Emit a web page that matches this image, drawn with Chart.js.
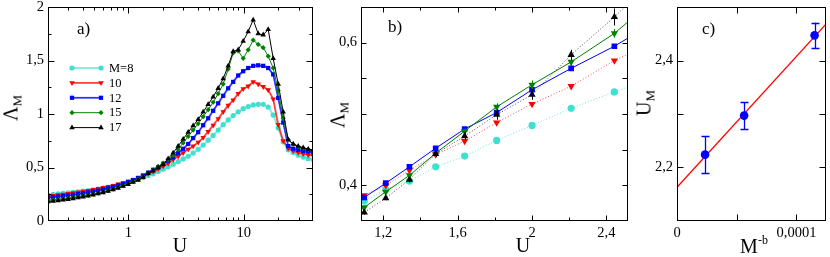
<!DOCTYPE html>
<html>
<head>
<meta charset="utf-8">
<script src="https://cdn.jsdelivr.net/npm/chart.js@4.4.1/dist/chart.umd.min.js"></script>
<style>
  html, body { margin: 0; padding: 0; background: #fff; }
  #wrap { position: relative; width: 830px; height: 257px; overflow: hidden;
          font-family: "Liberation Serif", "Times New Roman", serif; color: #000; }
  canvas { position: absolute; top: 0; }
  .ttl { position: absolute; white-space: nowrap; line-height: 1; font-size: 20px;
         transform: translate(-50%, -50%); }
  .rot { transform: translate(-50%, -50%) rotate(-90deg); }
  .pl { position: absolute; white-space: nowrap; line-height: 1; font-size: 17px; }
  .ttl sub { font-size: 13px; vertical-align: -4px; }
  .ttl sup { font-size: 12px; vertical-align: 9px; }
</style>
</head>
<body>
<div id="wrap">
  <canvas id="chart-a" width="322" height="257" style="left:0"></canvas>
  <canvas id="chart-b" width="310" height="257" style="left:322px"></canvas>
  <canvas id="chart-c" width="198" height="257" style="left:632px"></canvas>

  <div class="pl" style="left:77px;top:20px">a)</div>
  <div class="pl" style="left:388px;top:18px">b)</div>
  <div class="pl" style="left:702px;top:20px">c)</div>

  <div class="ttl rot" style="left:12px;top:108px">Λ<sub>M</sub></div>
  <div class="ttl" style="left:180px;top:245px">U</div>
  <div class="ttl rot" style="left:339px;top:115px">Λ<sub>M</sub></div>
  <div class="ttl" style="left:523px;top:245px">U</div>
  <div class="ttl rot" style="left:645px;top:103px">U<sub>M</sub></div>
  <div class="ttl" style="left:754px;top:245px">M<sup>-b</sup></div>
</div>
<script>
(function () {
  // U grid shared by panels a) and b)
  var U = [0.2005, 0.2216, 0.2449, 0.2707, 0.2991, 0.3306, 0.3654, 0.4038, 0.4463, 0.4932,
    0.5451, 0.6024, 0.6657, 0.7358, 0.8131, 0.8987, 0.9932, 1.0976, 1.2131, 1.3406,
    1.4816, 1.6375, 1.8097, 2.0, 2.2103, 2.4428, 2.6997, 2.9836, 3.2974, 3.6442,
    4.0275, 4.4511, 4.9192, 5.4366, 6.0083, 6.6402, 7.3386, 8.1104, 8.9634, 9.9061,
    10.948, 12.099, 13.372, 14.778, 16.332, 18.050, 19.949, 22.046, 24.365, 26.928,
    29.760, 32.889, 36.349, 40.171];

  var M8 = [0.243, 0.248, 0.253, 0.258, 0.263, 0.268, 0.273, 0.279, 0.285, 0.292,
    0.299, 0.307, 0.316, 0.326, 0.337, 0.349, 0.363, 0.378, 0.394, 0.406,
    0.426, 0.441, 0.463, 0.484, 0.508, 0.531, 0.555, 0.58, 0.605, 0.635,
    0.67, 0.71, 0.755, 0.80, 0.85, 0.90, 0.945, 0.985, 1.02, 1.05,
    1.07, 1.085, 1.09, 1.09, 1.065, 0.99, 0.87, 0.74, 0.665, 0.64,
    0.615, 0.597, 0.582, 0.575];
  var M10 = [0.232, 0.238, 0.244, 0.250, 0.256, 0.263, 0.270, 0.277, 0.285, 0.293,
    0.302, 0.311, 0.321, 0.332, 0.344, 0.357, 0.371, 0.386, 0.400, 0.421,
    0.443, 0.462, 0.488, 0.514, 0.539, 0.575, 0.605, 0.637, 0.67, 0.70,
    0.735, 0.78, 0.835, 0.895, 0.955, 1.02, 1.08, 1.13, 1.19, 1.235,
    1.26, 1.30, 1.28, 1.255, 1.225, 1.14, 0.90, 0.75, 0.68, 0.655,
    0.64, 0.628, 0.617, 0.61];
  var M12 = [0.218, 0.223, 0.228, 0.233, 0.239, 0.245, 0.252, 0.259, 0.267, 0.276,
    0.285, 0.295, 0.306, 0.319, 0.333, 0.348, 0.365, 0.383, 0.403, 0.426,
    0.452, 0.479, 0.502, 0.534, 0.564, 0.595, 0.635, 0.675, 0.72, 0.775,
    0.83, 0.895, 0.96, 1.03, 1.10, 1.17, 1.24, 1.30, 1.36, 1.40,
    1.43, 1.45, 1.455, 1.45, 1.43, 1.37, 1.15, 0.92, 0.70, 0.675,
    0.665, 0.655, 0.648, 0.642];
  var M15 = [0.194, 0.198, 0.202, 0.207, 0.213, 0.219, 0.226, 0.234, 0.242, 0.251,
    0.261, 0.272, 0.284, 0.298, 0.313, 0.330, 0.348, 0.369, 0.391, 0.414,
    0.445, 0.476, 0.510, 0.541, 0.573, 0.613, 0.67, 0.73, 0.79, 0.85,
    0.91, 0.975, 1.04, 1.11, 1.19, 1.28, 1.42, 1.57, 1.59, 1.52,
    1.60, 1.69, 1.65, 1.62, 1.54, 1.43, 1.22, 0.96, 0.76, 0.715,
    0.695, 0.68, 0.668, 0.662];
  var M17 = [0.180, 0.185, 0.191, 0.197, 0.203, 0.210, 0.218, 0.226, 0.235, 0.245,
    0.255, 0.266, 0.279, 0.293, 0.308, 0.325, 0.343, 0.362, 0.382, 0.408,
    0.444, 0.469, 0.499, 0.527, 0.583, 0.636, 0.70, 0.765, 0.83, 0.89,
    0.95, 1.02, 1.09, 1.16, 1.24, 1.33, 1.45, 1.585, 1.60, 1.68,
    1.77, 1.88, 1.75, 1.74, 1.79, 1.52, 1.28, 1.02, 0.76, 0.72,
    0.70, 0.685, 0.672, 0.666];

  // panel b) is a window of the same data (U from 0.99 to 2.70)
  var ZOOM_FROM = 16, ZOOM_TO = 27;
  var M15_ERR_B = [0, 0.002, 0.002, 0.003, 0.003, 0.004, 0.005, 0.006, 0.006, 0.006, 0];
  var M17_ERR_B = [0, 0.003, 0.003, 0.004, 0.004, 0.006, 0.007, 0.007, 0.007, 0.012, 0];

  // panel c)
  var MB = [2.35e-5, 5.62e-5, 1.152e-4];
  var UM = [2.224, 2.297, 2.447];
  var UM_ERR = [0.035, 0.025, 0.024];
  var FIT_X = [0, 1.245e-4];
  var FIT_Y = [2.163, 2.4675];

  var LEGEND_LABELS = ['M=8', '10', '12', '15', '17'];

  var A_X_TICKS = [1, 10];
  var A_Y_TICKS = [0, 0.5, 1, 1.5, 2];
  var B_X_TICKS = [1.2, 1.6, 2, 2.4];
  var B_Y_TICKS = [0.4, 0.6];
  var C_X_TICKS = [0, 0.0001];
  var C_Y_TICKS = [2.2, 2.4];

  var FONT = { family: '"Liberation Serif", "Times New Roman", serif', size: 14.5, lineHeight: 1 };

  function pts(xs, ys) {
    return xs.map(function (x, i) { return { x: x, y: ys[i] }; });
  }

  function comma(v) { return String(v).replace('.', ','); }

  function fixedAxis(values, min, max, size, isX, type) {
    return {
      type: type || 'linear',
      min: min,
      max: max,
      grid: { display: false, drawTicks: false },
      border: { display: false },
      afterBuildTicks: function (s) {
        s.ticks = values.map(function (v) { return { value: v }; });
      },
      afterFit: function (s) {
        if (isX) s.height = size; else s.width = size;
        s.paddingTop = 0; s.paddingBottom = 0; s.paddingLeft = 0; s.paddingRight = 0;
      },
      ticks: {
        color: '#000',
        font: FONT,
        padding: isX ? 5 : 4,
        maxRotation: 0,
        autoSkip: false,
        callback: function (v) { return comma(v); },
      },
    };
  }

  // frame + inward ticks on all four sides
  function frameTicks(cfg) {
    return {
      id: 'frameTicks',
      afterDraw: function (chart) {
        var ctx = chart.ctx, a = chart.chartArea;
        var sx = chart.scales.x, sy = chart.scales.y;
        var L = Math.round(a.left) + 0.5, R = Math.round(a.right) - 0.5;
        var T = Math.round(a.top) + 0.5, B = Math.round(a.bottom) - 0.5;
        ctx.save();
        ctx.strokeStyle = '#000';
        ctx.lineWidth = 1;
        ctx.beginPath();
        function xt(v, len) {
          var p = Math.round(sx.getPixelForValue(v)) + 0.5;
          ctx.moveTo(p, B); ctx.lineTo(p, B - len);
          ctx.moveTo(p, T); ctx.lineTo(p, T + len);
        }
        function yt(v, len) {
          var p = Math.round(sy.getPixelForValue(v)) + 0.5;
          ctx.moveTo(L, p); ctx.lineTo(L + len, p);
          ctx.moveTo(R, p); ctx.lineTo(R - len, p);
        }
        cfg.xMajor.forEach(function (v) { xt(v, cfg.majLen); });
        cfg.xMinor.forEach(function (v) { xt(v, cfg.minLen); });
        cfg.yMajor.forEach(function (v) { yt(v, cfg.majLen); });
        cfg.yMinor.forEach(function (v) { yt(v, cfg.minLen); });
        ctx.stroke();
        ctx.strokeRect(L, T, R - L, B - T);
        ctx.restore();
      },
    };
  }

  var errorBars = {
    id: 'errorBars',
    afterDatasetsDraw: function (chart) {
      var ctx = chart.ctx, a = chart.chartArea, sy = chart.scales.y;
      ctx.save();
      ctx.beginPath();
      ctx.rect(a.left, a.top, a.right - a.left, a.bottom - a.top);
      ctx.clip();
      chart.data.datasets.forEach(function (ds, di) {
        if (!ds.errs) return;
        var meta = chart.getDatasetMeta(di);
        ctx.strokeStyle = ds.pointBackgroundColor;
        ctx.lineWidth = ds.errWidth || 1;
        meta.data.forEach(function (pt, i) {
          var e = ds.errs[i];
          if (!e) return;
          var v = ds.data[i].y;
          var y1 = sy.getPixelForValue(v + e), y2 = sy.getPixelForValue(v - e);
          var x = Math.round(pt.x) + 0.5;
          ctx.beginPath();
          ctx.moveTo(x, y1); ctx.lineTo(x, y2);
          if (ds.errCap) {
            ctx.moveTo(x - ds.errCap, Math.round(y1) + 0.5); ctx.lineTo(x + ds.errCap, Math.round(y1) + 0.5);
            ctx.moveTo(x - ds.errCap, Math.round(y2) + 0.5); ctx.lineTo(x + ds.errCap, Math.round(y2) + 0.5);
          }
          ctx.stroke();
        });
      });
      ctx.restore();
    },
  };

  var legendA = {
    id: 'legendA',
    afterDraw: function (chart) {
      var ctx = chart.ctx;
      ctx.save();
      LEGEND_LABELS.forEach(function (txt, i) {
        var ds = chart.data.datasets[i];
        var y = 68 + i * 14.9;
        ctx.strokeStyle = ds.borderColor;
        ctx.lineWidth = ds.borderWidth;
        ctx.beginPath();
        ctx.moveTo(72, y); ctx.lineTo(101, y);
        ctx.stroke();
        ctx.fillStyle = ds.pointBackgroundColor;
        ctx.strokeStyle = ds.pointBackgroundColor;
        [72, 101].forEach(function (x) {
          Chart.helpers.drawPoint(ctx, {
            pointStyle: ds.pointStyle, rotation: ds.pointRotation || 0,
            radius: ds.pointRadius, borderWidth: 0,
          }, x, y);
        });
        ctx.fillStyle = '#000';
        ctx.font = '12.5px "Liberation Serif", serif';
        ctx.textBaseline = 'middle';
        ctx.textAlign = 'left';
        ctx.fillText(txt, 109, y + 0.5);
      });
      ctx.restore();
    },
  };

  function series(xs, ys, st) {
    return {
      data: pts(xs, ys),
      borderColor: st.line,
      borderWidth: st.width,
      borderDash: st.dash || [],
      pointStyle: st.style,
      pointRotation: st.rot || 0,
      pointRadius: st.r,
      pointBackgroundColor: st.color,
      pointBorderWidth: 0,
      tension: 0,
      clip: 0,
      order: st.order,
    };
  }

  var STYLE_A = [
    { color: '#40e0d0', line: 'rgba(64,224,208,0.6)', width: 2, style: 'circle', r: 2.6, order: 5 },
    { color: '#ff0000', line: 'rgba(255,0,0,0.75)', width: 1.8, style: 'triangle', rot: 180, r: 3.2, order: 4 },
    { color: '#0000ff', line: 'rgba(0,0,255,0.8)', width: 1.8, style: 'rect', r: 3, order: 3 },
    { color: '#008000', line: '#008000', width: 1, style: 'rectRot', r: 2.6, order: 2 },
    { color: '#000000', line: '#000000', width: 1, style: 'triangle', r: 3.2, order: 1 },
  ];
  var STYLE_B = [
    { color: '#40e0d0', line: 'rgba(64,224,208,0.8)', width: 1, dash: [1, 2], style: 'circle', r: 3.6, order: 5 },
    { color: '#ff0000', line: 'rgba(255,0,0,0.7)', width: 1, dash: [1, 2], style: 'triangle', rot: 180, r: 4.2, order: 4 },
    { color: '#0000ff', line: '#0000ff', width: 1, style: 'rect', r: 4, order: 3 },
    { color: '#008000', line: '#008000', width: 1, style: 'triangle', rot: 180, r: 4.2, order: 2 },
    { color: '#000000', line: 'rgba(0,0,0,0.7)', width: 1, dash: [1, 2], style: 'triangle', r: 4.2, order: 1 },
  ];
  var ALL = [M8, M10, M12, M15, M17];

  function baseOptions(pad, x, y) {
    return {
      responsive: false,
      animation: false,
      events: [],
      layout: { padding: pad },
      plugins: { legend: { display: false }, tooltip: { enabled: false } },
      scales: { x: x, y: y },
    };
  }

  // a)
  new Chart(document.getElementById('chart-a'), {
    type: 'line',
    data: {
      datasets: ALL.map(function (ys, i) { return series(U, ys, STYLE_A[i]); }),
    },
    options: baseOptions({ top: 7, right: 9, left: 0, bottom: 0 },
      fixedAxis(A_X_TICKS, 0.2, 40, 36, true, 'logarithmic'),
      fixedAxis(A_Y_TICKS, 0, 2, 48, false)),
    plugins: [frameTicks({
      xMajor: [1, 10], xMinor: [0.3, 0.4, 0.5, 0.6, 0.7, 0.8, 0.9, 2, 3, 4, 5, 6, 7, 8, 9, 20, 30],
      yMajor: [0.5, 1, 1.5], yMinor: [0.25, 0.75, 1.25, 1.75], majLen: 6, minLen: 3,
    }), legendA],
  });

  // b)
  var uB = U.slice(ZOOM_FROM, ZOOM_TO);
  var dsB = ALL.map(function (ys, i) { return series(uB, ys.slice(ZOOM_FROM, ZOOM_TO), STYLE_B[i]); });
  dsB[3].errs = M15_ERR_B;
  dsB[4].errs = M17_ERR_B;
  new Chart(document.getElementById('chart-b'), {
    type: 'line',
    data: { datasets: dsB },
    options: baseOptions({ top: 7, right: 4, left: 0, bottom: 0 },
      fixedAxis(B_X_TICKS, 1.08, 2.515, 36, true),
      fixedAxis(B_Y_TICKS, 0.35, 0.65, 39, false)),
    plugins: [frameTicks({
      xMajor: [1.2, 1.6, 2, 2.4], xMinor: [1.4, 1.8, 2.2],
      yMajor: [0.4, 0.45, 0.5, 0.55, 0.6], yMinor: [], majLen: 5, minLen: 3,
    }), errorBars],
  });

  // c)
  new Chart(document.getElementById('chart-c'), {
    type: 'line',
    data: {
      datasets: [
        {
          data: pts(MB, UM), showLine: false, pointStyle: 'circle', pointRadius: 4.3,
          pointBackgroundColor: '#0000ff', pointBorderWidth: 0,
          errs: UM_ERR, errCap: 4, errWidth: 1.3, order: 1, clip: 0,
        },
        {
          data: pts(FIT_X, FIT_Y), borderColor: '#ff0000', borderWidth: 1.3,
          pointRadius: 0, tension: 0, order: 2, clip: 0,
        },
      ],
    },
    options: baseOptions({ top: 7, right: 2, left: 0, bottom: 0 },
      fixedAxis(C_X_TICKS, 0, 1.245e-4, 36, true),
      fixedAxis(C_Y_TICKS, 2.1, 2.5, 45, false)),
    plugins: [frameTicks({
      xMajor: [0.00005, 0.0001], xMinor: [],
      yMajor: [2.2, 2.3, 2.4], yMinor: [], majLen: 6, minLen: 3,
    }), errorBars],
  });
})();
</script>
</body>
</html>
